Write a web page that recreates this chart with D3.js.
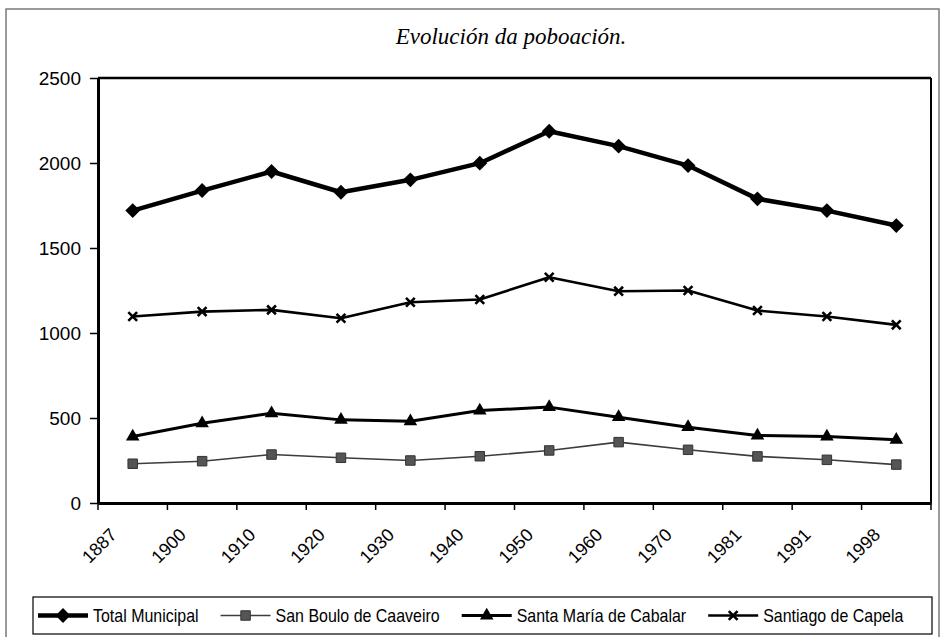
<!DOCTYPE html>
<html>
<head>
<meta charset="utf-8">
<script src="https://cdn.jsdelivr.net/npm/d3@7"></script>
<style>
  html, body { margin: 0; padding: 0; background: #fff; }
  svg { display: block; }
</style>
</head>
<body>
<svg id="chart" width="943" height="637"></svg>
<script>
const years = ["1887","1900","1910","1920","1930","1940","1950","1960","1970","1981","1991","1998"];
const totalMunicipal = [1720,1838,1950,1828,1901,1999,2187,2099,1985,1789,1720,1632];
const sanBoulo      = [231,246,285,266,250,275,309,358,313,274,254,226];
const santaMaria    = [391,469,528,489,481,544,564,505,446,397,391,372];
const santiago      = [1097,1126,1136,1087,1181,1197,1328,1246,1250,1132,1097,1048];
const yTicks = [0,500,1000,1500,2000,2500];
const seriesNames = ["Total Municipal","San Boulo de Caaveiro","Santa María de Cabalar","Santiago de Capela"];
const titleText = "Evolución da poboación.";

const series = [
  {name: seriesNames[0], values: totalMunicipal, width: 4.5, color: "#000", symbol: "diamond"},
  {name: seriesNames[1], values: sanBoulo, width: 1.6, color: "#3c3c3c", symbol: "square"},
  {name: seriesNames[2], values: santaMaria, width: 3, color: "#000", symbol: "triangle"},
  {name: seriesNames[3], values: santiago, width: 2.6, color: "#000", symbol: "x"}
];

const svg = d3.select("#chart");
const plot = {left: 98, right: 931, top: 78, bottom: 503};

const x = d3.scaleBand().domain(years).range([plot.left, plot.right]).padding(0);
const y = d3.scaleLinear().domain([0, 2500]).range([plot.bottom, plot.top]);

// outer frame
svg.append("rect").attr("x", 6).attr("y", 9).attr("width", 933).attr("height", 640)
  .attr("fill", "#fff").attr("stroke", "#7a7a7a").attr("stroke-width", 1.5);

// title
svg.append("text").attr("x", 511).attr("y", 44).attr("text-anchor", "middle")
  .attr("font-family", "Liberation Serif, Times New Roman, serif")
  .attr("font-style", "italic").attr("font-size", 23).attr("fill", "#000")
  .text(titleText);

// plot area border (top & right)
svg.append("line").attr("x1", plot.left).attr("x2", plot.right).attr("y1", plot.top).attr("y2", plot.top)
  .attr("stroke", "#000").attr("stroke-width", 2.5);
svg.append("line").attr("x1", plot.right).attr("x2", plot.right).attr("y1", plot.top).attr("y2", plot.bottom)
  .attr("stroke", "#000").attr("stroke-width", 2);

// y axis
const yAxis = svg.append("g").attr("transform", `translate(${plot.left},0)`)
  .call(d3.axisLeft(y).tickValues(yTicks).tickSize(8).tickPadding(9).tickSizeOuter(0).tickFormat(d3.format("d")));
yAxis.select(".domain").attr("stroke-width", 3);
yAxis.selectAll(".tick line").attr("stroke-width", 1.5);
yAxis.selectAll("text").attr("font-family", "Liberation Sans, Arial, sans-serif").attr("font-size", 19).attr("fill", "#000");

// x axis
const xAxis = svg.append("g").attr("transform", `translate(0,${plot.bottom})`)
  .call(d3.axisBottom(x).tickSize(0).tickSizeOuter(0));
xAxis.select(".domain").attr("stroke-width", 3);
xAxis.selectAll("text")
  .attr("font-family", "Liberation Sans, Arial, sans-serif").attr("font-size", 18).attr("fill", "#000")
  .attr("x", 0).attr("y", 0).attr("dy", 0)
  .attr("text-anchor", "end")
  .attr("transform", "translate(-15,33) rotate(-45)");
// boundary tick marks
const bounds = years.map(d => x(d)).concat([x(years[years.length-1]) + x.bandwidth()]);
svg.append("g").selectAll("line").data(bounds).join("line")
  .attr("x1", d => d).attr("x2", d => d).attr("y1", plot.bottom).attr("y2", plot.bottom + 7)
  .attr("stroke", "#000").attr("stroke-width", 1.5);

function symbolPath(kind) {
  if (kind === "diamond") return d3.symbol(d3.symbolSquare, 110)();
  if (kind === "square") return d3.symbol(d3.symbolSquare, 90)();
  if (kind === "triangle") return d3.symbol(d3.symbolTriangle, 80)();
  return d3.symbol(d3.symbolX, 52)();
}
function drawMarker(g, kind, color) {
  const p = g.append("path").attr("d", symbolPath(kind));
  if (kind === "diamond") p.attr("transform", "rotate(45)").attr("fill", color);
  else if (kind === "square") p.attr("fill", "#555").attr("stroke", "#333").attr("stroke-width", 1);
  else if (kind === "triangle") p.attr("fill", color);
  else p.attr("fill", "none").attr("stroke", color).attr("stroke-width", 2.6);
}

const cx = d => x(d) + x.bandwidth() / 2;
const line = d3.line().x((v, i) => cx(years[i])).y(v => y(v));

series.forEach(s => {
  svg.append("path").datum(s.values).attr("d", line)
    .attr("fill", "none").attr("stroke", s.color).attr("stroke-width", s.width)
    .attr("stroke-linejoin", "round");
  s.values.forEach((v, i) => {
    const g = svg.append("g").attr("transform", `translate(${cx(years[i])},${y(v)})`);
    drawMarker(g, s.symbol, s.color);
  });
});

// legend
const legend = svg.append("g");
legend.append("rect").attr("x", 33).attr("y", 597).attr("width", 899).attr("height", 37)
  .attr("fill", "#fff").attr("stroke", "#000").attr("stroke-width", 1.2);
const ly = 615.5;
const sampleLen = 50, textGap = 5, entryGap = 22;
// measure condensed widths first
const tmp = legend.append("text").attr("font-family", "Liberation Sans, Arial, sans-serif").attr("font-size", 19);
const widths = series.map(s => { tmp.text(s.name); return tmp.node().getComputedTextLength() * 0.84; });
tmp.remove();
let lx = 38;
series.forEach((s, i) => {
  legend.append("line").attr("x1", lx).attr("x2", lx + sampleLen).attr("y1", ly).attr("y2", ly)
    .attr("stroke", s.color).attr("stroke-width", s.width);
  const g = legend.append("g").attr("transform", `translate(${lx + sampleLen / 2},${ly})`);
  drawMarker(g, s.symbol, s.color);
  legend.append("text").attr("x", lx + sampleLen + textGap).attr("y", ly).attr("dy", "0.36em")
    .attr("font-family", "Liberation Sans, Arial, sans-serif").attr("font-size", 19).attr("fill", "#000")
    .attr("textLength", widths[i]).attr("lengthAdjust", "spacingAndGlyphs")
    .text(s.name);
  lx = lx + sampleLen + textGap + widths[i] + entryGap;
});
</script>
</body>
</html>
